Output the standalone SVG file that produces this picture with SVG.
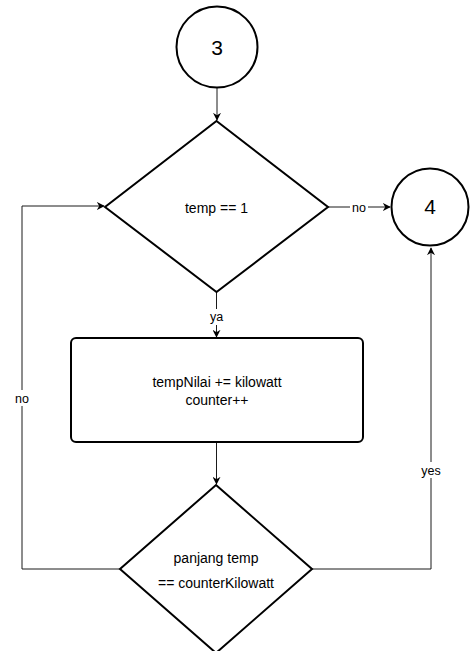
<svg xmlns="http://www.w3.org/2000/svg" width="470" height="651" viewBox="0 0 470 651">
  <style>
    .shape { fill: #ffffff; stroke: #000000; stroke-width: 2; }
    .edge { fill: none; stroke: #1a1a1a; stroke-width: 1; }
    .txt { font-family: "Liberation Sans", Arial, sans-serif; font-size: 14px; fill: #000000; text-anchor: middle; }
    .big { font-size: 21px; }
    .lbl { font-family: "Liberation Sans", Arial, sans-serif; font-size: 12.5px; fill: #000000; text-anchor: middle; }
    .lblbg { fill: #ffffff; stroke: none; }
  </style>
  <defs>
    <marker id="arrow" viewBox="0 0 10 10" refX="9" refY="5" markerWidth="8" markerHeight="8" markerUnits="userSpaceOnUse" orient="auto">
      <path d="M0,0 L10,5 L0,10 L3,5 Z" fill="#000000"/>
    </marker>
  </defs>
  <rect width="470" height="651" fill="#ffffff"/>

  <g id="connectors">
    <path class="edge" d="M217,88 L217,120" marker-end="url(#arrow)"/>
    <path class="edge" d="M328,207 L390,207" marker-end="url(#arrow)"/>
    <path class="edge" d="M216.5,292 L216.5,337" marker-end="url(#arrow)"/>
    <path class="edge" d="M216.5,442 L216.5,484" marker-end="url(#arrow)"/>
    <path class="edge" d="M120,569 L22,569 L22,206 L104,206" marker-end="url(#arrow)"/>
    <path class="edge" d="M312,569 L431,569 L431,248" marker-end="url(#arrow)"/>
    <rect class="lblbg" x="350" y="199" width="18" height="15"/>
    <text class="lbl" x="359" y="212">no</text>
    <rect class="lblbg" x="208" y="309" width="17" height="16"/>
    <text class="lbl" x="216.5" y="321">ya</text>
    <rect class="lblbg" x="13" y="390" width="18" height="16"/>
    <text class="lbl" x="22" y="403">no</text>
    <rect class="lblbg" x="419" y="462" width="24" height="16"/>
    <text class="lbl" x="431" y="475">yes</text>
  </g>

  <g id="node-3">
    <circle class="shape" cx="217" cy="47" r="40.5"/>
    <text class="txt big" x="217" y="55">3</text>
  </g>

  <g id="node-temp-check">
    <polygon class="shape" points="216.5,121 328,207 216.5,292 105,207"/>
    <text class="txt" x="216.5" y="213">temp == 1</text>
  </g>

  <g id="node-4">
    <circle class="shape" cx="430" cy="207" r="38.5"/>
    <text class="txt big" x="430" y="214">4</text>
  </g>

  <g id="node-update">
    <rect class="shape" x="71" y="338" width="292" height="104" rx="5" ry="5"/>
    <text class="txt" x="217" y="387">tempNilai += kilowatt</text>
    <text class="txt" x="217" y="405">counter++</text>
  </g>

  <g id="node-length-check">
    <polygon class="shape" points="216,485 312,569 216,653 120,569"/>
    <text class="txt" x="216" y="563">panjang temp</text>
    <text class="txt" x="216" y="588">== counterKilowatt</text>
  </g>
</svg>
